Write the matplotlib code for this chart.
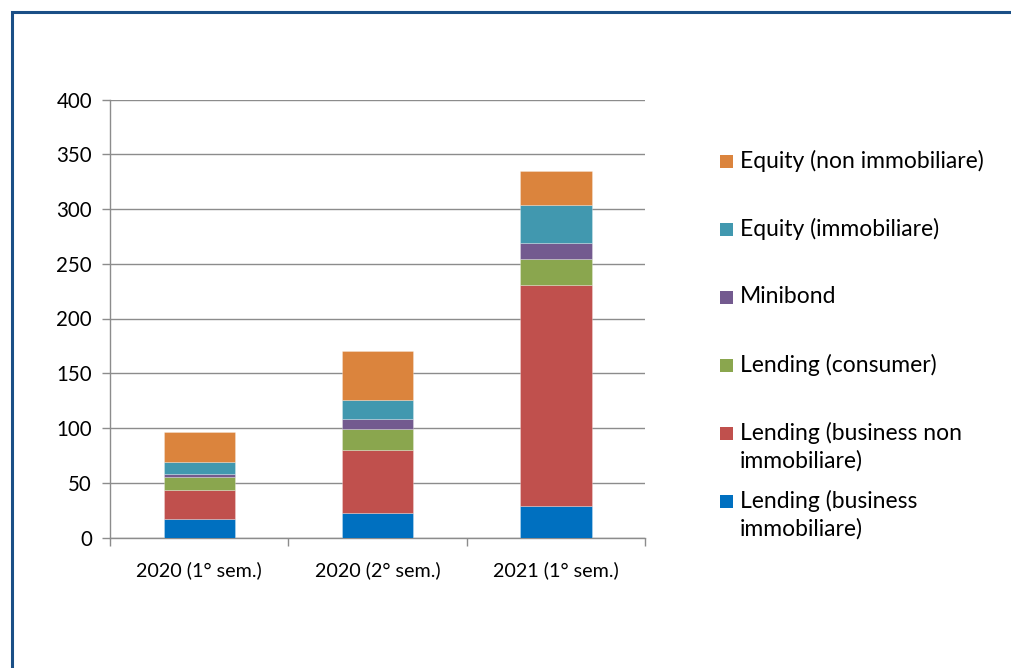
import matplotlib
matplotlib.use("Agg")
import matplotlib.pyplot as plt
from matplotlib.patches import Rectangle
import numpy as np

plt.rcParams['font.family'] = ['Lato', 'DejaVu Sans']

categories = ["2020 (1° sem.)", "2020 (2° sem.)", "2021 (1° sem.)"]
series_names = [
    "Lending (business\nimmobiliare)",
    "Lending (business non\nimmobiliare)",
    "Lending (consumer)",
    "Minibond",
    "Equity (immobiliare)",
    "Equity (non immobiliare)",
]
lending_business_immobiliare = [17, 22, 29]
lending_business_non_immobiliare = [26, 58, 202]
lending_consumer = [12, 19.5, 23.5]
minibond = [3, 8.5, 14.5]
equity_immobiliare = [11, 18, 35]
equity_non_immobiliare = [27, 44, 31]
series_values = [
    lending_business_immobiliare,
    lending_business_non_immobiliare,
    lending_consumer,
    minibond,
    equity_immobiliare,
    equity_non_immobiliare,
]
colors = ['#0070C0', '#C0504D', '#8AA64E', '#735A8F', '#4198AF', '#DB843D']
y_ticks = [0, 50, 100, 150, 200, 250, 300, 350, 400]

W, H = 1011, 668
fig = plt.figure(figsize=(W / 100, H / 100), dpi=100)
fig.patch.set_facecolor('white')

def fx(px):
    return px / W

def fy(py):
    return 1 - py / H

ax = fig.add_axes([fx(110), fy(537.5), fx(645) - fx(110), fy(99.5) - fy(537.5)])

x = np.arange(len(categories))
bottom = np.zeros(len(categories))
for name, vals, c in zip(series_names, series_values, colors):
    ax.bar(x, vals, width=0.4, bottom=bottom, color=c,
           edgecolor=(1, 1, 1, 0.3), linewidth=0.6, zorder=3, label=name)
    bottom = bottom + np.array(vals)

ax.set_xlim(-0.5, len(categories) - 0.5)
ax.set_ylim(0, 400)
ax.set_yticks(y_ticks)
ax.set_yticklabels([str(t) for t in y_ticks])
ax.yaxis.grid(True, color='#8C8C8C', linewidth=1.0, zorder=0)
ax.set_axisbelow(True)

ax.set_xticks(x)
ax.set_xticklabels(categories)
ax.set_xticks(np.arange(-0.5, len(categories), 1.0), minor=True)
ax.tick_params(axis='x', which='major', length=0, pad=17, labelsize=14.2, colors='black')
ax.tick_params(axis='x', which='minor', length=6, width=1, color='#8C8C8C', direction='out')
ax.tick_params(axis='y', length=6, width=1, color='#8C8C8C', pad=7, labelsize=14.8)

for s in ['top', 'right']:
    ax.spines[s].set_visible(False)
for s in ['left', 'bottom']:
    ax.spines[s].set_color('#8C8C8C')
    ax.spines[s].set_linewidth(1.0)

# Legend (drawn manually to match the layout: reversed order, first line aligned)
first_line_y = [501, 433, 365, 297, 229, 161]
for name, c, yc in zip(series_names, colors, first_line_y):
    fig.patches.append(Rectangle((fx(720), fy(yc + 7)), fx(13), fy(yc - 6) - fy(yc + 7),
                                 transform=fig.transFigure, facecolor=c, edgecolor='none'))
    for i, line in enumerate(name.split("\n")):
        fig.text(fx(740), fy(yc + 28 * i), line, ha='left', va='center',
                 fontsize=16.5, color='black')

# Outer border
fig.patches.append(Rectangle((fx(12), fy(H + 20)), fx(W + 20), fy(12) - fy(H + 20),
                             transform=fig.transFigure, facecolor='none',
                             edgecolor='#1A4F86', linewidth=2.2, clip_on=False))

fig.savefig('out.png', dpi=100, facecolor='white')
